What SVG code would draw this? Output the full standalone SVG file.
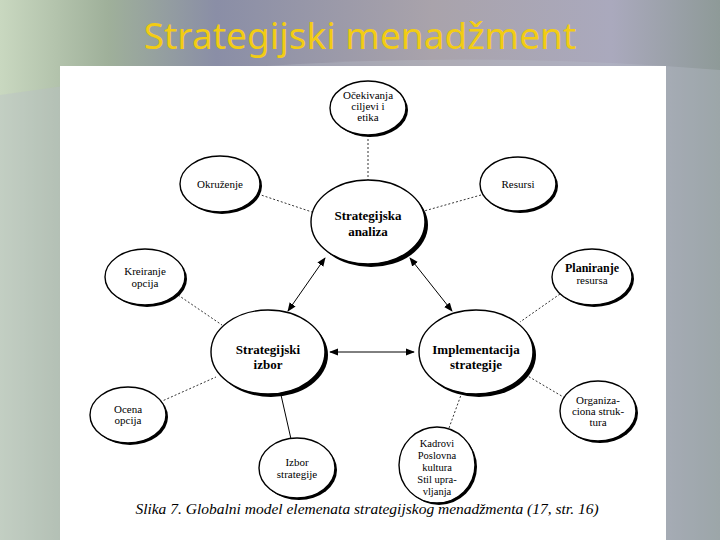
<svg xmlns="http://www.w3.org/2000/svg" width="720" height="540" viewBox="0 0 720 540">
<defs>
<linearGradient id="bg" x1="0" y1="0" x2="1" y2="0">
<stop offset="0" stop-color="#c9d8c0"/>
<stop offset="0.15" stop-color="#9fb09a"/>
<stop offset="0.3" stop-color="#8a8ea6"/>
<stop offset="0.6" stop-color="#a9a3ab"/>
<stop offset="0.85" stop-color="#aaa9bd"/>
<stop offset="1" stop-color="#8e9a98"/>
</linearGradient>
<marker id="ah" viewBox="0 0 10 10" refX="9" refY="5" markerWidth="9" markerHeight="9" orient="auto-start-reverse" markerUnits="userSpaceOnUse">
<path d="M0,1 L10,5 L0,9 z" fill="#000"/>
</marker>
</defs>
<style>
.sh{fill:#000}
.el{fill:#fff;stroke:#000;stroke-width:1.4}
.t{font-family:"Liberation Serif",serif;font-size:11px;fill:#000;text-anchor:middle}
.k{font-family:"Liberation Serif",serif;font-size:10.5px;fill:#000;text-anchor:middle}
.b{font-family:"Liberation Serif",serif;font-size:13px;font-weight:bold;fill:#000;text-anchor:middle}
.dot{stroke:#000;stroke-width:0.8;stroke-dasharray:2 2;fill:none}
.sol{stroke:#000;stroke-width:1;fill:none}
</style>
<rect x="0" y="0" width="720" height="540" fill="url(#bg)"/>
<path d="M0,95 Q360,40 720,70 L720,540 L0,540 z" fill="#b8bcc8" opacity="0.35"/>
<text x="360" y="49" font-family="Noto Sans, sans-serif" font-size="37" fill="#f2cc14" text-anchor="middle">Strategijski menadžment</text>
<rect x="60" y="66" width="606" height="474" fill="#fff"/>

<g id="connectors">
<line class="dot" x1="368" y1="135" x2="368" y2="180"/>
<line class="dot" x1="258" y1="194" x2="312" y2="212"/>
<line class="dot" x1="481" y1="195" x2="424" y2="211"/>
<line class="sol" x1="325" y1="258" x2="288" y2="311" marker-start="url(#ah)" marker-end="url(#ah)"/>
<line class="sol" x1="410" y1="258" x2="452" y2="311" marker-start="url(#ah)" marker-end="url(#ah)"/>
<line class="sol" x1="330" y1="352" x2="414" y2="352" marker-start="url(#ah)" marker-end="url(#ah)"/>
<line class="dot" x1="178" y1="295" x2="222" y2="325"/>
<line class="dot" x1="160" y1="402" x2="216" y2="377"/>
<line class="sol" x1="291" y1="439" x2="281" y2="395"/>
<line class="dot" x1="560" y1="294" x2="520" y2="322"/>
<line class="dot" x1="565" y1="398" x2="526" y2="375"/>
<line class="dot" x1="449" y1="428" x2="461" y2="395"/>
</g>

<g id="ocekivanja">
<ellipse class="sh" cx="370" cy="110" rx="38" ry="27"/>
<ellipse class="el" cx="368" cy="108" rx="38" ry="27"/>
<text class="t" x="368" y="99">Očekivanja</text>
<text class="t" x="368" y="110">ciljevi i</text>
<text class="t" x="368" y="121">etika</text>
</g>
<g id="okruzenje">
<ellipse class="sh" cx="222" cy="186" rx="40" ry="28"/>
<ellipse class="el" cx="220" cy="184" rx="40" ry="28"/>
<text class="t" x="220" y="188">Okruženje</text>
</g>
<g id="analiza">
<ellipse class="sh" cx="371" cy="225" rx="57" ry="42"/>
<ellipse class="el" cx="368" cy="222" rx="57" ry="42"/>
<text class="b" x="368" y="220">Strategijska</text>
<text class="b" x="368" y="236">analiza</text>
</g>
<g id="resursi">
<ellipse class="sh" cx="520" cy="186" rx="38" ry="27"/>
<ellipse class="el" cx="518" cy="184" rx="38" ry="27"/>
<text class="t" x="518" y="188">Resursi</text>
</g>
<g id="kreiranje">
<ellipse class="sh" cx="147" cy="279" rx="40" ry="28"/>
<ellipse class="el" cx="145" cy="277" rx="40" ry="28"/>
<text class="t" x="145" y="275">Kreiranje</text>
<text class="t" x="145" y="287">opcija</text>
</g>
<g id="planiranje">
<ellipse class="sh" cx="594" cy="279" rx="40" ry="28"/>
<ellipse class="el" cx="592" cy="277" rx="40" ry="28"/>
<text class="b" x="592" y="272" style="font-size:12px">Planiranje</text>
<text class="t" x="592" y="284">resursa</text>
</g>
<g id="izbor">
<ellipse class="sh" cx="271" cy="355" rx="57" ry="42"/>
<ellipse class="el" cx="268" cy="352" rx="57" ry="42"/>
<text class="b" x="268" y="354">Strategijski</text>
<text class="b" x="268" y="369">izbor</text>
</g>
<g id="implementacija">
<ellipse class="sh" cx="479" cy="355" rx="57" ry="42"/>
<ellipse class="el" cx="476" cy="352" rx="57" ry="42"/>
<text class="b" x="476" y="354">Implementacija</text>
<text class="b" x="476" y="369">strategije</text>
</g>
<g id="ocena">
<ellipse class="sh" cx="130" cy="417" rx="38" ry="28"/>
<ellipse class="el" cx="128" cy="415" rx="38" ry="28"/>
<text class="t" x="128" y="413">Ocena</text>
<text class="t" x="128" y="424">opcija</text>
</g>
<g id="organizaciona">
<ellipse class="sh" cx="600" cy="413" rx="38" ry="30"/>
<ellipse class="el" cx="598" cy="411" rx="38" ry="30"/>
<text class="t" x="598" y="404">Organiza-</text>
<text class="t" x="598" y="415">ciona struk-</text>
<text class="t" x="598" y="426">tura</text>
</g>
<g id="izbor-strategije">
<ellipse class="sh" cx="299" cy="470" rx="38" ry="30"/>
<ellipse class="el" cx="297" cy="468" rx="38" ry="30"/>
<text class="t" x="297" y="466">Izbor</text>
<text class="t" x="297" y="478">strategije</text>
</g>
<g id="kadrovi">
<ellipse class="sh" cx="439" cy="467" rx="38" ry="38"/>
<ellipse class="el" cx="437" cy="465" rx="38" ry="38"/>
<text class="k" x="437" y="447">Kadrovi</text>
<text class="k" x="437" y="459">Poslovna</text>
<text class="k" x="437" y="471">kultura</text>
<text class="k" x="437" y="483">Stil upra-</text>
<text class="k" x="437" y="495">vljanja</text>
</g>
<text x="367" y="514" font-family="Liberation Serif, serif" font-style="italic" font-size="15.5" fill="#000" text-anchor="middle">Slika 7. Globalni model elemenata strategijskog menadžmenta (17, str. 16)</text>
</svg>
